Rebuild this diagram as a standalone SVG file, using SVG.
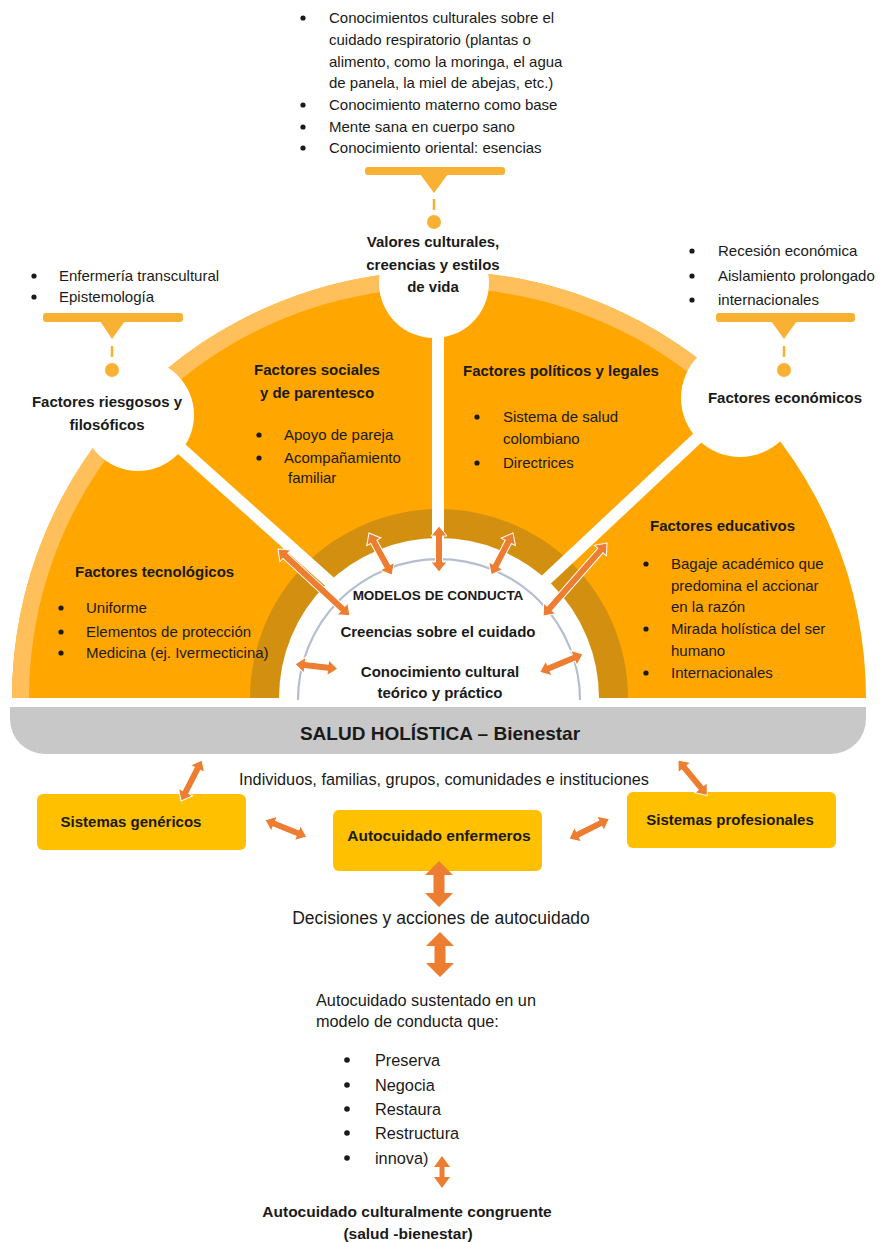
<svg xmlns="http://www.w3.org/2000/svg" width="893" height="1242" viewBox="0 0 893 1242">
<style>
text{font-family:"Liberation Sans",Arial,sans-serif;font-size:15px;fill:#1a1a1a}
.b{font-weight:bold}
.m{text-anchor:middle}
.l{font-size:16.3px}
.dot{fill:#1a1a1a}
.co{fill:#F9B134}
.dash{stroke:#F9B134;stroke-width:2.5}
.arr{fill:#ED7D31;stroke:#fff;stroke-width:1}
.arr2{fill:#ED7D31}
.box{fill:#FFC000}
.sp{stroke:#fff;stroke-width:12}
</style>
<rect width="893" height="1242" fill="#fff"/>
<g id="semicircle">
<path d="M12,698 A427,427 0 0 1 866,698 Z" fill="#FFA600"/>
<path d="M12,698 A427,427 0 0 1 743.6,398.7 L731.5,410.6 A410,410 0 0 0 29,698 Z" fill="#FFC05C"/>
<path d="M250,698 A189,189 0 0 1 628,698 Z" fill="#D39010"/>
<line class="sp" x1="438" y1="330" x2="438" y2="600"/>
<line class="sp" x1="138" y1="410" x2="380" y2="627"/>
<line class="sp" x1="740" y1="398" x2="500" y2="623"/>
<path d="M279,698 A160,160 0 0 1 599,698 Z" fill="#fff"/>
<path d="M298,700 A141,141 0 0 1 580,700" fill="none" stroke="#B4BED0" stroke-width="2.2"/>
</g>
<g id="valores">
<circle cx="434" cy="283" r="55" fill="#fff"/>
<text class="b m" x="433" y="247">Valores culturales,</text>
<text class="b m" x="433" y="270">creencias y estilos</text>
<text class="b m" x="433" y="292">de vida</text>
</g>
<g id="riesgosos">
<circle cx="138" cy="415" r="56" fill="#fff"/>
<text class="b m" x="107" y="407">Factores riesgosos y</text>
<text class="b m" x="107" y="430">filosóficos</text>
</g>
<g id="economicos">
<circle cx="740" cy="398" r="59" fill="#fff"/>
<text class="b m" x="785" y="403">Factores económicos</text>
</g>
<g id="top-callout">
<text x="329" y="23">Conocimientos culturales sobre el</text>
<text x="329" y="45">cuidado respiratorio (plantas o</text>
<text x="329" y="67">alimento, como la moringa, el agua</text>
<text x="329" y="88">de panela, la miel de abejas, etc.)</text>
<text x="329" y="110">Conocimiento materno como base</text>
<text x="329" y="132">Mente sana en cuerpo sano</text>
<text x="329" y="153">Conocimiento oriental: esencias</text>
<circle class="dot" cx="303" cy="18" r="2.6"/>
<circle class="dot" cx="303" cy="105" r="2.6"/>
<circle class="dot" cx="303" cy="127" r="2.6"/>
<circle class="dot" cx="303" cy="148" r="2.6"/>
<rect class="co" x="365" y="167" width="140" height="8" rx="3"/>
<polygon class="co" points="420,174 448,174 434,193"/>
<line class="dash" x1="434" y1="199" x2="434" y2="210"/>
<circle class="co" cx="434" cy="222" r="7"/>
</g>
<g id="left-callout">
<text x="59" y="281">Enfermería transcultural</text>
<text x="59" y="302">Epistemología</text>
<circle class="dot" cx="34" cy="276" r="2.6"/>
<circle class="dot" cx="34" cy="297" r="2.6"/>
<rect class="co" x="43" y="313" width="140" height="9" rx="3"/>
<polygon class="co" points="100,321 125,321 112,339"/>
<line class="dash" x1="112" y1="346" x2="112" y2="357"/>
<circle class="co" cx="112" cy="370" r="7"/>
</g>
<g id="right-callout">
<text x="718" y="256">Recesión económica</text>
<text x="718" y="281">Aislamiento prolongado</text>
<text x="718" y="305">internacionales</text>
<circle class="dot" cx="692" cy="251" r="2.6"/>
<circle class="dot" cx="692" cy="276" r="2.6"/>
<circle class="dot" cx="692" cy="300" r="2.6"/>
<rect class="co" x="716" y="313" width="139" height="9" rx="3"/>
<polygon class="co" points="771,321 797,321 784,339"/>
<line class="dash" x1="784" y1="346" x2="784" y2="357"/>
<circle class="co" cx="784" cy="370" r="7"/>
</g>
<g id="sociales">
<text class="b m" x="317" y="375">Factores sociales</text>
<text class="b m" x="317" y="398">y de parentesco</text>
<circle class="dot" cx="259" cy="435" r="2.6"/>
<circle class="dot" cx="259" cy="458" r="2.6"/>
<text x="284" y="440">Apoyo de pareja</text>
<text x="284" y="463">Acompañamiento</text>
<text x="288" y="483">familiar</text>
</g>
<g id="politicos">
<text class="b" x="463" y="376">Factores políticos y legales</text>
<circle class="dot" cx="477" cy="417" r="2.6"/>
<circle class="dot" cx="477" cy="463" r="2.6"/>
<text x="503" y="422">Sistema de salud</text>
<text x="503" y="444">colombiano</text>
<text x="503" y="468">Directrices</text>
</g>
<g id="tecnologicos">
<text class="b" x="75" y="577">Factores tecnológicos</text>
<circle class="dot" cx="61" cy="608" r="2.6"/>
<circle class="dot" cx="61" cy="632" r="2.6"/>
<circle class="dot" cx="61" cy="653" r="2.6"/>
<text x="86" y="613">Uniforme</text>
<text x="86" y="637">Elementos de protección</text>
<text x="86" y="658">Medicina (ej. Ivermecticina)</text>
</g>
<g id="educativos">
<text class="b" x="650" y="531">Factores educativos</text>
<circle class="dot" cx="646" cy="564" r="2.6"/>
<circle class="dot" cx="646" cy="629" r="2.6"/>
<circle class="dot" cx="646" cy="673" r="2.6"/>
<text x="671" y="569">Bagaje académico que</text>
<text x="671" y="591">predomina el accionar</text>
<text x="671" y="612">en la razón</text>
<text x="671" y="634">Mirada holística del ser</text>
<text x="671" y="656">humano</text>
<text x="671" y="678">Internacionales</text>
</g>
<g id="modelos">
<text class="b m" x="438" y="600" style="font-size:13.5px">MODELOS DE CONDUCTA</text>
<text class="b m" x="438" y="637">Creencias sobre el cuidado</text>
<text class="b m" x="440" y="677">Conocimiento cultural</text>
<text class="b m" x="440" y="698">teórico y práctico</text>
</g>
<g id="salud">
<path d="M10,707 H866 V719 A35,35 0 0 1 831,754 H45 A35,35 0 0 1 10,719 Z" fill="#C8C8C8"/>
<text class="b m" x="440" y="740" style="font-size:19px">SALUD HOLÍSTICA – Bienestar</text>
</g>
<g id="individuos">
<text class="m l" x="444" y="785">Individuos, familias, grupos, comunidades e instituciones</text>
</g>
<g id="genericos">
<rect class="box" x="37" y="794" width="209" height="56" rx="6"/>
<text class="b m" x="131" y="827">Sistemas genéricos</text>
</g>
<g id="autocuidado">
<rect class="box" x="333" y="810" width="209" height="61" rx="6"/>
<text class="b m" x="439" y="841" style="font-size:15.5px">Autocuidado enfermeros</text>
</g>
<g id="profesionales">
<rect class="box" x="627" y="792" width="209" height="56" rx="6"/>
<text class="b m" x="730" y="825">Sistemas profesionales</text>
</g>
<g id="decisiones">
<text class="m" x="441" y="924" style="font-size:17.5px">Decisiones y acciones de autocuidado</text>
</g>
<g id="sustentado">
<text class="l" x="316" y="1006">Autocuidado sustentado en un</text>
<text class="l" x="316" y="1027">modelo de conducta que:</text>
<circle class="dot" cx="347" cy="1060" r="2.8"/>
<circle class="dot" cx="347" cy="1085" r="2.8"/>
<circle class="dot" cx="347" cy="1109" r="2.8"/>
<circle class="dot" cx="347" cy="1133" r="2.8"/>
<circle class="dot" cx="347" cy="1158" r="2.8"/>
<text class="l" x="375" y="1066">Preserva</text>
<text class="l" x="375" y="1091">Negocia</text>
<text class="l" x="375" y="1115">Restaura</text>
<text class="l" x="375" y="1139">Restructura</text>
<text class="l" x="375" y="1164">innova)</text>
</g>
<g id="congruente">
<text class="b m" x="407" y="1217" style="font-size:15.5px">Autocuidado culturalmente congruente</text>
<text class="b m" x="408" y="1239" style="font-size:15.5px">(salud -bienestar)</text>
</g>
<g id="connectors">
<polygon class="arr" transform="translate(278 549) rotate(42.9)" points="0,0 10,-8 10,-3.5 88,-3.5 88,-8 98,0 88,8 88,3.5 10,3.5 10,8"/>
<polygon class="arr" transform="translate(369 533) rotate(61.3)" points="0,0 10,-8 10,-3.5 38,-3.5 38,-8 48,0 38,8 38,3.5 10,3.5 10,8"/>
<polygon class="arr" transform="translate(439 526) rotate(90)" points="0,0 10,-8 10,-3.5 36,-3.5 36,-8 46,0 36,8 36,3.5 10,3.5 10,8"/>
<polygon class="arr" transform="translate(513 533) rotate(117.6)" points="0,0 10,-8 10,-3.5 37,-3.5 37,-8 47,0 37,8 37,3.5 10,3.5 10,8"/>
<polygon class="arr" transform="translate(607 543) rotate(131.2)" points="0,0 10,-8 10,-3.5 87,-3.5 87,-8 97,0 87,8 87,3.5 10,3.5 10,8"/>
<polygon class="arr" transform="translate(295 664) rotate(6.6)" points="0,0 10,-8 10,-3.5 33,-3.5 33,-8 43,0 33,8 33,3.5 10,3.5 10,8"/>
<polygon class="arr" transform="translate(583 654) rotate(157.3)" points="0,0 10,-8 10,-3.5 37,-3.5 37,-8 47,0 37,8 37,3.5 10,3.5 10,8"/>
<polygon class="arr" transform="translate(202 760) rotate(117.1)" points="0,0 10,-8 10,-3.5 36,-3.5 36,-8 46,0 36,8 36,3.5 10,3.5 10,8"/>
<polygon class="arr" transform="translate(678 760) rotate(50.4)" points="0,0 10,-8 10,-3.5 36,-3.5 36,-8 46,0 36,8 36,3.5 10,3.5 10,8"/>
<polygon class="arr" transform="translate(265 820) rotate(22)" points="0,0 10,-8 10,-3.5 35,-3.5 35,-8 45,0 35,8 35,3.5 10,3.5 10,8"/>
<polygon class="arr" transform="translate(569 839) rotate(-26.6)" points="0,0 10,-8 10,-3.5 35,-3.5 35,-8 45,0 35,8 35,3.5 10,3.5 10,8"/>
<polygon class="arr2" transform="translate(439 861) rotate(90)" points="0,0 14,-14 14,-5.5 32,-5.5 32,-14 46,0 32,14 32,5.5 14,5.5 14,14"/>
<polygon class="arr2" transform="translate(440 932) rotate(90)" points="0,0 14,-14 14,-5.5 31,-5.5 31,-14 45,0 31,14 31,5.5 14,5.5 14,14"/>
<polygon class="arr2" transform="translate(442 1156) rotate(90)" points="0,0 11,-8 11,-2.5 21,-2.5 21,-8 32,0 21,8 21,2.5 11,2.5 11,8"/>
</g>
</svg>
